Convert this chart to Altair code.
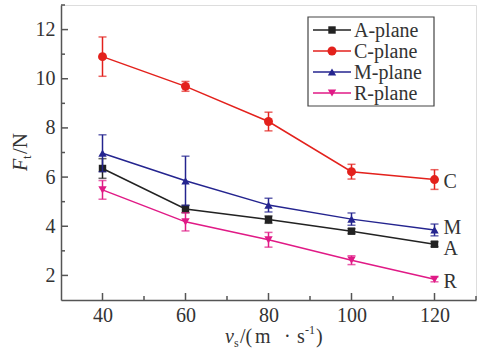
import altair as alt
import pandas as pd

speeds = [40, 60, 80, 100, 120]
series_names = ["A-plane", "C-plane", "M-plane", "R-plane"]
end_labels = ["A", "C", "M", "R"]
values = {
    "A-plane": [6.35, 4.70, 4.27, 3.80, 3.27],
    "C-plane": [10.90, 9.69, 8.26, 6.22, 5.90],
    "M-plane": [6.97, 5.85, 4.86, 4.29, 3.85],
    "R-plane": [5.48, 4.18, 3.45, 2.62, 1.84],
}
errors = {
    "A-plane": [0.40, 0.15, 0.15, 0.10, 0.10],
    "C-plane": [0.80, 0.20, 0.38, 0.30, 0.40],
    "M-plane": [0.75, 1.00, 0.28, 0.25, 0.24],
    "R-plane": [0.38, 0.37, 0.30, 0.18, 0.10],
}
end_label_y = [3.08, 5.78, 3.93, 1.72]
x_major = [40, 60, 80, 100, 120]
x_minor = [50, 70, 90, 110, 130]
y_major = [2, 4, 6, 8, 10, 12]
y_minor = [3, 5, 7, 9, 11, 13]

colors = {"A-plane": "#222222", "C-plane": "#e3211c", "M-plane": "#24248f", "R-plane": "#e01a86"}
shapes = {"A-plane": "square", "C-plane": "circle", "M-plane": "triangle-up", "R-plane": "triangle-down"}
sizes = {"A-plane": 55, "C-plane": 80, "M-plane": 70, "R-plane": 70}

FONT = "Liberation Serif"
TXT = "#333333"
W, H = 415, 295
XD = [30, 130]
YD = [1, 13]

xs = alt.Scale(domain=XD, nice=False, zero=False)
ys = alt.Scale(domain=YD, nice=False, zero=False)

rows = []
for s in series_names:
    for sp, v, e in zip(speeds, values[s], errors[s]):
        rows.append({"series": s, "speed": sp, "val": v, "lo": v - e, "hi": v + e})
df = pd.DataFrame(rows)

layers = []
base_axes = alt.Chart(df).mark_point(opacity=0).encode(
    x=alt.X("speed:Q", scale=xs, title=None,
            axis=alt.Axis(values=x_major, ticks=False, labelFont=FONT, labelFontSize=20,
                          labelColor=TXT, labelPadding=5, grid=False, domainColor="#555555",
                          domainWidth=1.5)),
    y=alt.Y("val:Q", scale=ys, title=None,
            axis=alt.Axis(values=y_major, ticks=False, labelFont=FONT, labelFontSize=20,
                          labelColor=TXT, labelPadding=6, grid=False, domainColor="#555555",
                          domainWidth=1.5)),
)
layers.append(base_axes)

# inward ticks
tx_major = pd.DataFrame({"t": x_major})
tx_minor = pd.DataFrame({"t": x_minor})
ty_major = pd.DataFrame({"t": y_major})
ty_minor = pd.DataFrame({"t": y_minor})
layers.append(alt.Chart(tx_major).mark_rule(color="#555555", strokeWidth=1.5).encode(
    x=alt.X("t:Q", scale=xs), y=alt.value(H), y2=alt.value(H - 7)))
layers.append(alt.Chart(tx_minor).mark_rule(color="#555555", strokeWidth=1.5).encode(
    x=alt.X("t:Q", scale=xs), y=alt.value(H), y2=alt.value(H - 4)))
layers.append(alt.Chart(ty_major).mark_rule(color="#555555", strokeWidth=1.5).encode(
    y=alt.Y("t:Q", scale=ys), x=alt.value(0), x2=alt.value(7)))
layers.append(alt.Chart(ty_minor).mark_rule(color="#555555", strokeWidth=1.5).encode(
    y=alt.Y("t:Q", scale=ys), x=alt.value(0), x2=alt.value(4)))

for s in series_names:
    d = df[df["series"] == s]
    c = colors[s]
    ch = alt.Chart(d)
    layers.append(ch.mark_line(color=c, strokeWidth=1.5).encode(
        x=alt.X("speed:Q", scale=xs), y=alt.Y("val:Q", scale=ys)))
    layers.append(ch.mark_rule(color=c, strokeWidth=1.5).encode(
        x=alt.X("speed:Q", scale=xs), y=alt.Y("lo:Q", scale=ys), y2="hi:Q"))
    for f in ["lo", "hi"]:
        layers.append(ch.mark_tick(color=c, orient="horizontal", size=8, thickness=1.5).encode(
            x=alt.X("speed:Q", scale=xs), y=alt.Y(f + ":Q", scale=ys)))
    layers.append(ch.mark_point(color=c, fill=c, filled=True, opacity=1, shape=shapes[s],
                                size=sizes[s]).encode(
        x=alt.X("speed:Q", scale=xs), y=alt.Y("val:Q", scale=ys)))

# end labels
lab_df = pd.DataFrame({"lab": end_labels, "x": [speeds[-1]] * 4, "y": end_label_y})
layers.append(alt.Chart(lab_df).mark_text(font=FONT, fontSize=20, color=TXT, align="left",
                                          baseline="middle", dx=9).encode(
    x=alt.X("x:Q", scale=xs), y=alt.Y("y:Q", scale=ys), text="lab:N"))

# legend
one = pd.DataFrame({"k": [0]})
layers.append(alt.Chart(one).mark_rect(fill="white", stroke="#444444", strokeWidth=1.2).encode(
    x=alt.value(247), x2=alt.value(373), y=alt.value(12), y2=alt.value(101)))
leg_rows = [25, 46, 67, 88]
for s, yy in zip(series_names, leg_rows):
    c = colors[s]
    layers.append(alt.Chart(one).mark_rule(color=c, strokeWidth=1.5).encode(
        x=alt.value(252), x2=alt.value(290), y=alt.value(yy)))
    layers.append(alt.Chart(one).mark_point(color=c, fill=c, filled=True, opacity=1,
                                            shape=shapes[s], size=sizes[s]).encode(
        x=alt.value(271), y=alt.value(yy)))
    layers.append(alt.Chart(one).mark_text(font=FONT, fontSize=20, color=TXT, align="left",
                                           baseline="middle", text=s).encode(
        x=alt.value(293), y=alt.value(yy + 1)))

def txt(t, x, y, size=20, style="normal", angle=0):
    kw = dict(font=FONT, fontSize=size, color=TXT, align="left", baseline="alphabetic",
              text=t, fontStyle=style)
    if angle:
        kw["angle"] = angle
    return alt.Chart(one).mark_text(**kw).encode(x=alt.value(x), y=alt.value(y))

# x-axis title pieces (pixel positions relative to plot origin)
by = 338
layers += [
    txt("v", 164, by, style="italic"),
    txt("s", 173, by + 4, size=12),
    txt("/(", 179, by),
    txt("m", 194, by),
    txt("\u00b7", 223, by),
    txt("s", 236, by),
    txt("-1", 244, by - 9, size=12),
    txt(")", 255, by),
]
# y-axis title pieces (rotated)
lx, ly = -34, 166
layers += [
    txt("F", lx, ly, style="italic", angle=270),
    txt("t", lx + 4, ly - 12, size=13, angle=270),
    txt("/N", lx, ly - 17, size=21, angle=270),
]

chart = alt.layer(*layers).properties(
    width=W, height=H,
    padding={"left": 61, "top": 5, "right": 1, "bottom": 51},
    autosize=alt.AutoSizeParams(type="none"),
).configure_view(stroke=None).configure(background="white")

chart.save("out.html", embed_options={"renderer": "svg", "actions": False})
